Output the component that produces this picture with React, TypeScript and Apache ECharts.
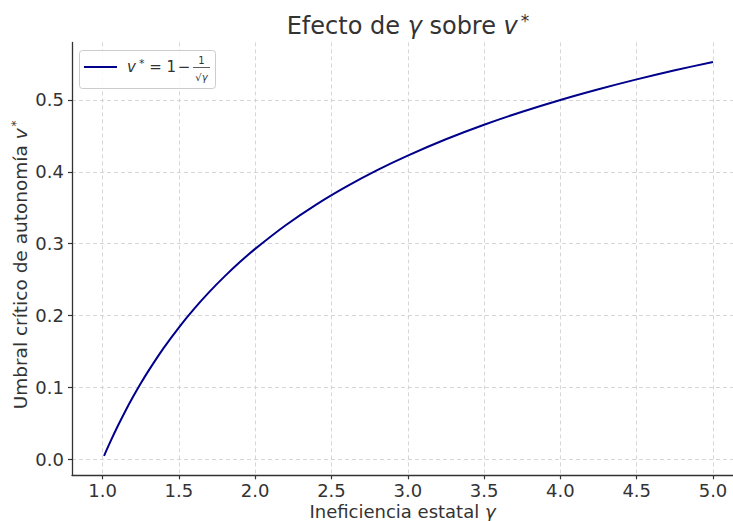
import React, { useEffect, useRef } from "react";
import * as echarts from "echarts";

const gammaValues = [1.01, 1.05, 1.1, 1.15, 1.2, 1.25, 1.3, 1.4, 1.5, 1.6, 1.7, 1.8, 1.9, 2.0, 2.2, 2.4, 2.6, 2.8, 3.0, 3.25, 3.5, 3.75, 4.0, 4.25, 4.5, 4.75, 5.0];
const vValues = [0.005, 0.0241, 0.0465, 0.0675, 0.0871, 0.1056, 0.1229, 0.1548, 0.1835, 0.2094, 0.233, 0.2546, 0.2745, 0.2929, 0.3258, 0.3545, 0.3798, 0.4024, 0.4226, 0.4453, 0.4655, 0.4836, 0.5, 0.5149, 0.5286, 0.5412, 0.5528];
const xTicks = [1.0, 1.5, 2.0, 2.5, 3.0, 3.5, 4.0, 4.5, 5.0];
const yTicks = [0.0, 0.1, 0.2, 0.3, 0.4, 0.5];

const FONT = "DejaVu Sans";
const TEXT = "#333333";
const LINE = "#00008B";

export default function App() {
  const ref = useRef<HTMLDivElement>(null);
  useEffect(() => {
    if (!ref.current) return;
    const chart = echarts.init(ref.current, null, { renderer: "svg" });
    chart.setOption({
      animation: false,
      backgroundColor: "#ffffff",
      title: {
        text: "{n|Efecto de }{i|γ}{n| sobre }{i|v}{sup|*}",
        left: 403,
        top: 7,
        textAlign: "center",
        textStyle: {
          fontFamily: FONT,
          fontSize: 24,
          fontWeight: "normal",
          color: TEXT,
          rich: {
            n: { fontFamily: FONT, fontSize: 24, color: TEXT },
            i: { fontFamily: FONT, fontSize: 24, fontStyle: "italic", color: TEXT },
            sup: { fontFamily: FONT, fontSize: 17, color: TEXT, padding: [0, 0, 11, 3] },
          },
        },
      },
      grid: { left: 72, right: 0, top: 42.4, bottom: 45.7, containLabel: false, outerBoundsMode: "none" },
      xAxis: {
        type: "value",
        min: 0.8,
        max: 5.131,
        name: "{n|Ineficiencia estatal }{i|γ}",
        nameLocation: "middle",
        nameGap: 27,
        nameMoveOverlap: false,
        nameTextStyle: {
          fontFamily: FONT,
          fontSize: 18,
          color: TEXT,
          rich: {
            n: { fontFamily: FONT, fontSize: 18, color: TEXT },
            i: { fontFamily: FONT, fontSize: 18, fontStyle: "italic", color: TEXT },
          },
        },
        axisLine: { show: true, onZero: false, lineStyle: { color: TEXT, width: 1.3 } },
        axisTick: { show: true, length: 4, customValues: xTicks, lineStyle: { color: TEXT, width: 1.2 } },
        axisLabel: {
          customValues: xTicks,
          formatter: (v: number) => v.toFixed(1),
          fontFamily: FONT,
          fontSize: 18,
          color: TEXT,
          margin: 6,
        },
        splitLine: { show: true, lineStyle: { color: "#cccccc", type: [4, 3], width: 0.8 } },
      },
      yAxis: {
        type: "value",
        min: -0.022,
        max: 0.58,
        name: "{n|Umbral crítico de autonomía }{i|v}{sup|*}",
        nameLocation: "middle",
        nameGap: 41,
        nameMoveOverlap: false,
        nameRotate: 90,
        nameTextStyle: {
          fontFamily: FONT,
          fontSize: 18.5,
          color: TEXT,
          padding: [0, 12, 0, 0],
          rich: {
            n: { fontFamily: FONT, fontSize: 18.5, color: TEXT },
            i: { fontFamily: FONT, fontSize: 18.5, fontStyle: "italic", color: TEXT },
            sup: { fontFamily: FONT, fontSize: 12, color: TEXT, padding: [0, 0, 9, 2] },
          },
        },
        axisLine: { show: true, onZero: false, lineStyle: { color: TEXT, width: 1.3 } },
        axisTick: { show: true, length: 4, customValues: yTicks, lineStyle: { color: TEXT, width: 1.2 } },
        axisLabel: {
          customValues: yTicks,
          formatter: (v: number) => v.toFixed(1),
          fontFamily: FONT,
          fontSize: 18,
          color: TEXT,
          margin: 8,
        },
        splitLine: { show: true, lineStyle: { color: "#cccccc", type: [4, 3], width: 0.8 } },
      },
      series: [
        {
          type: "line",
          data: gammaValues.map((g, k) => [g, vValues[k]]),
          smooth: 0.3,
          showSymbol: false,
          lineStyle: { color: LINE, width: 2 },
        },
      ],
      graphic: [
        {
          type: "rect",
          shape: { x: 79.5, y: 50.5, width: 136, height: 38, r: 3 },
          style: { fill: "rgba(255,255,255,0.85)", stroke: "#cccccc", lineWidth: 1 },
          z: 100,
        },
        {
          type: "line",
          shape: { x1: 84, y1: 67, x2: 117, y2: 67 },
          style: { stroke: LINE, lineWidth: 2 },
          z: 101,
        },
        {
          type: "text",
          x: 127,
          y: 67,
          z: 101,
          style: {
            text: "{i|v}{sup|*}{n| = 1}",
            verticalAlign: "middle",
            fontFamily: FONT,
            fontSize: 15,
            fill: TEXT,
            rich: {
              n: { fontFamily: FONT, fontSize: 15, fill: TEXT },
              i: { fontFamily: FONT, fontSize: 15, fontStyle: "italic", fill: TEXT },
              sup: { fontFamily: FONT, fontSize: 11, fill: TEXT, padding: [0, 0, 7, 3] },
            },
          },
        },
        {
          type: "text",
          x: 184,
          y: 67,
          z: 101,
          style: { text: "−", align: "center", verticalAlign: "middle", fontFamily: FONT, fontSize: 15, fill: TEXT },
        },
        {
          type: "text",
          x: 201.5,
          y: 60,
          z: 101,
          style: { text: "1", align: "center", verticalAlign: "middle", fontFamily: FONT, fontSize: 10, fill: TEXT },
        },
        {
          type: "line",
          shape: { x1: 193, y1: 67.5, x2: 210, y2: 67.5 },
          style: { stroke: TEXT, lineWidth: 0.8 },
          z: 101,
        },
        {
          type: "text",
          x: 201.5,
          y: 77,
          z: 101,
          style: {
            text: "{n|√}{i|γ}",
            align: "center",
            verticalAlign: "middle",
            fontFamily: FONT,
            fontSize: 10,
            fill: TEXT,
            rich: {
              n: { fontFamily: FONT, fontSize: 10, fill: TEXT },
              i: { fontFamily: FONT, fontSize: 10, fontStyle: "italic", fill: TEXT },
            },
          },
        },
      ],
    });
    return () => chart.dispose();
  }, []);
  return <div ref={ref} style={{ width: 733, height: 521, position: "fixed", left: 0, top: 0 }} />;
}
